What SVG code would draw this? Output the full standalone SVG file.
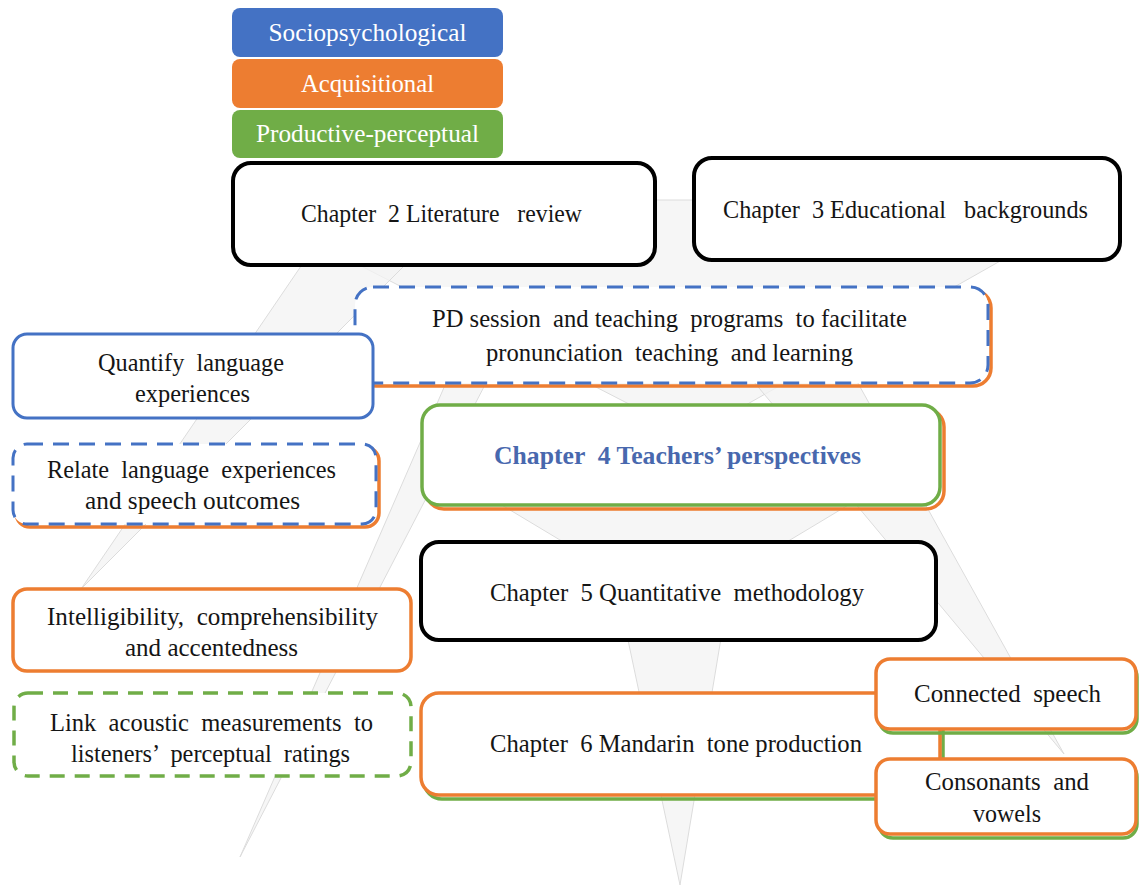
<svg xmlns="http://www.w3.org/2000/svg" width="1139" height="888" viewBox="0 0 1139 888">
  <style>
    .t{font-family:'Liberation Serif','DejaVu Serif','Times New Roman',serif;font-size:25px;fill:#151515;text-anchor:middle;white-space:pre}
    .lg{fill:#ffffff}
    .ray{fill:#f3f3f3;fill-opacity:.75;stroke:#dcdcdc;stroke-width:1}
    .box{fill:#ffffff}
    .blk{stroke:#000000;stroke-width:4}
    .blu{stroke:#4472C4;stroke-width:3}
    .org{stroke:#ED7D31;stroke-width:3.5}
    .grn{stroke:#70AD47;stroke-width:3.5}
    .dash{stroke-dasharray:16 10}
    .shO{fill:none;stroke:#ED7D31;stroke-width:3.5}
    .shG{fill:none;stroke:#70AD47;stroke-width:3.5}
  </style>
  <rect width="1139" height="888" fill="#ffffff"/>

  <!-- faint tapered rays behind the boxes -->
  <g id="rays">
    <polygon class="ray" points="233,200 1108,200 691,436"/>
    <polygon class="ray" points="329,225 445,225 81,589"/>
    <polygon class="ray" points="482,300 529,300 240,857"/>
    <polygon class="ray" points="719,340 834,340 1064,754"/>
    <polygon class="ray" points="460,480 890,480 675,609"/>
    <polygon class="ray" points="611,560 734,560 680,885"/>
  </g>

  <!-- legend -->
  <g id="legend-sociopsychological">
    <rect x="232" y="8" width="271" height="49" rx="8" fill="#4472C4"/>
    <text class="t lg" x="367.5" y="41" textLength="198" lengthAdjust="spacingAndGlyphs">Sociopsychological</text>
  </g>
  <g id="legend-acquisitional">
    <rect x="232" y="59" width="271" height="49" rx="8" fill="#ED7D31"/>
    <text class="t lg" x="367.5" y="92" textLength="133" lengthAdjust="spacingAndGlyphs">Acquisitional</text>
  </g>
  <g id="legend-productive-perceptual">
    <rect x="232" y="110" width="271" height="48" rx="8" fill="#70AD47"/>
    <text class="t lg" x="367.5" y="142" textLength="223" lengthAdjust="spacingAndGlyphs">Productive-perceptual</text>
  </g>

  <g id="chapter2">
    <rect class="box blk" x="233" y="163" width="422" height="102" rx="18"/>
    <text class="t" x="441.5" y="222" textLength="281" lengthAdjust="spacingAndGlyphs">Chapter  2 Literature   review</text>
  </g>

  <g id="chapter3">
    <rect class="box blk" x="694" y="158" width="426" height="102" rx="18"/>
    <text class="t" x="905.5" y="218" textLength="365" lengthAdjust="spacingAndGlyphs">Chapter  3 Educational   backgrounds</text>
  </g>

  <g id="pd-session">
    <rect class="shO" x="358" y="290" width="633" height="96" rx="18"/>
    <rect class="box blu dash" x="355" y="287" width="633" height="96" rx="18"/>
    <text class="t" x="669.5" y="327" textLength="475" lengthAdjust="spacingAndGlyphs">PD session  and teaching  programs  to facilitate</text>
    <text class="t" x="669.5" y="361" textLength="367" lengthAdjust="spacingAndGlyphs">pronunciation  teaching  and learning</text>
  </g>

  <g id="quantify">
    <rect class="box blu" x="13" y="334" width="360" height="84" rx="14"/>
    <text class="t" x="191" y="371" textLength="186" lengthAdjust="spacingAndGlyphs">Quantify  language</text>
    <text class="t" x="192.5" y="402" textLength="115" lengthAdjust="spacingAndGlyphs">experiences</text>
  </g>

  <g id="relate">
    <rect class="shO" x="16" y="447" width="363" height="80" rx="14"/>
    <rect class="box blu dash" x="13" y="444" width="363" height="80" rx="14"/>
    <text class="t" x="191.5" y="478" textLength="289" lengthAdjust="spacingAndGlyphs">Relate  language  experiences</text>
    <text class="t" x="192.5" y="509" textLength="215" lengthAdjust="spacingAndGlyphs">and speech outcomes</text>
  </g>

  <g id="chapter4">
    <rect class="shO" x="426" y="409" width="518" height="100" rx="18"/>
    <rect class="box grn" x="422" y="405" width="518" height="100" rx="18"/>
    <text class="t" x="677.5" y="464" textLength="367" lengthAdjust="spacingAndGlyphs" style="font-weight:bold;fill:#4868AE">Chapter  4 Teachers’ perspectives</text>
  </g>

  <g id="chapter5">
    <rect class="box blk" x="421" y="542" width="515" height="98" rx="18"/>
    <text class="t" x="677" y="601" textLength="374" lengthAdjust="spacingAndGlyphs">Chapter  5 Quantitative  methodology</text>
  </g>

  <g id="intelligibility">
    <rect class="box org" x="13" y="589" width="398" height="82" rx="14"/>
    <text class="t" x="212.5" y="625" textLength="331" lengthAdjust="spacingAndGlyphs">Intelligibility,  comprehensibility</text>
    <text class="t" x="211.5" y="656" textLength="173" lengthAdjust="spacingAndGlyphs">and accentedness</text>
  </g>

  <g id="link-acoustic">
    <rect class="box grn dash" x="14" y="693" width="397" height="83" rx="14" style="stroke-dasharray:15 10"/>
    <text class="t" x="211.5" y="731" textLength="323" lengthAdjust="spacingAndGlyphs">Link  acoustic  measurements  to</text>
    <text class="t" x="210.5" y="762" textLength="279" lengthAdjust="spacingAndGlyphs">listeners’  perceptual  ratings</text>
  </g>

  <g id="chapter6">
    <rect class="shG" x="424" y="697" width="519" height="102" rx="18"/>
    <rect class="box org" x="421" y="693" width="519" height="102" rx="18"/>
    <text class="t" x="676" y="752" textLength="372" lengthAdjust="spacingAndGlyphs">Chapter  6 Mandarin  tone production</text>
  </g>

  <g id="connected-speech">
    <rect class="shG" x="879" y="663" width="258" height="70" rx="14"/>
    <rect class="box org" x="876" y="659" width="260" height="70" rx="14"/>
    <text class="t" x="1007.5" y="702" textLength="187" lengthAdjust="spacingAndGlyphs">Connected  speech</text>
  </g>

  <g id="consonants-vowels">
    <rect class="shG" x="879" y="763" width="258" height="75" rx="14"/>
    <rect class="box org" x="876" y="759" width="260" height="75" rx="14"/>
    <text class="t" x="1007" y="790" textLength="164" lengthAdjust="spacingAndGlyphs">Consonants  and</text>
    <text class="t" x="1007" y="822" textLength="68" lengthAdjust="spacingAndGlyphs">vowels</text>
  </g>
</svg>
